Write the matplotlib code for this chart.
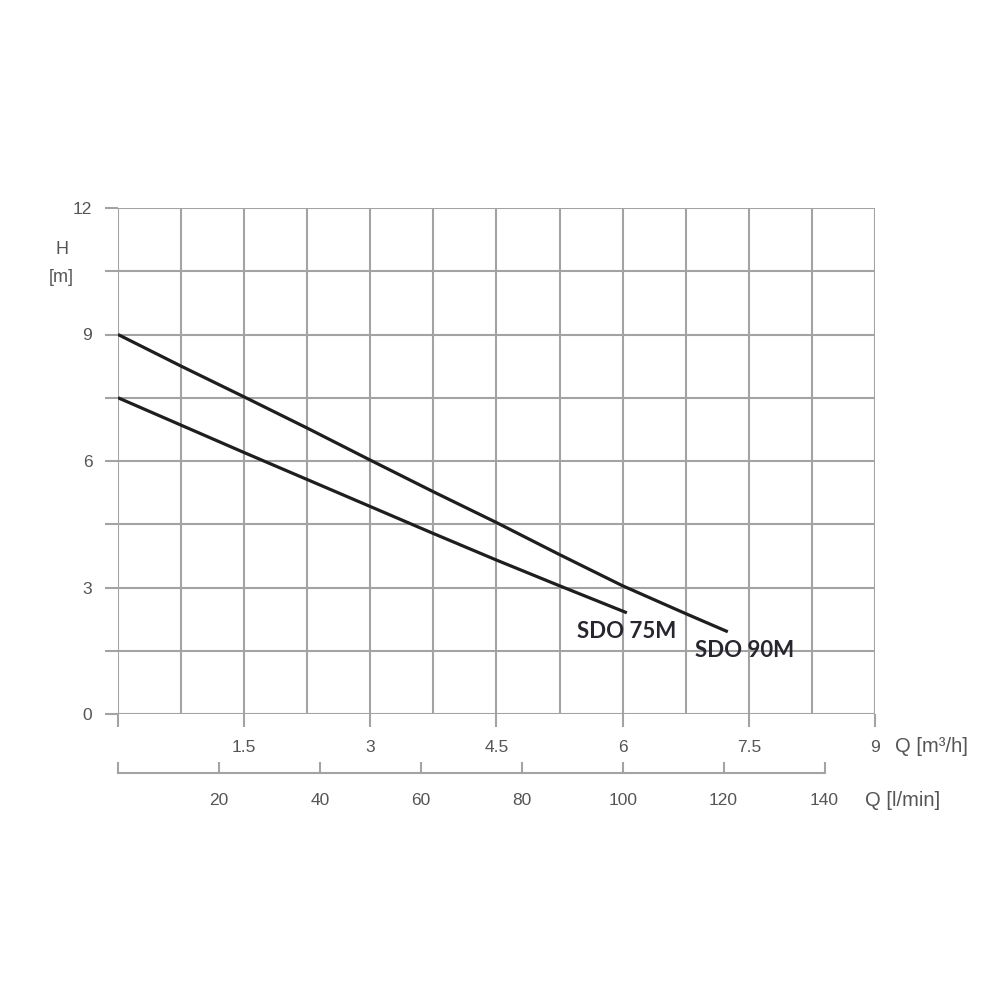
import matplotlib
matplotlib.use("Agg")
import matplotlib.pyplot as plt
import numpy as np

# pump curves (Q in m3/h, H in m)
q_90m = [0, 0.75, 1.5, 2.25, 3.0, 3.75, 4.5, 5.25, 6.0, 6.75, 7.25]
h_90m = [9.0, 8.25, 7.52, 6.78, 6.02, 5.27, 4.54, 3.78, 3.04, 2.38, 1.95]
q_75m = [0, 0.75, 1.5, 2.25, 3.0, 3.75, 4.5, 5.25, 6.05]
h_75m = [7.5, 6.85, 6.2, 5.56, 4.92, 4.28, 3.65, 3.04, 2.4]

x_major = [0, 1.5, 3, 4.5, 6, 7.5, 9]
x_labels = ["", "1.5", "3", "4.5", "6", "7.5", "9"]
lmin_ticks = [0, 20, 40, 60, 80, 100, 120, 140]
lmin_labels = ["", "20", "40", "60", "80", "100", "120", "140"]
y_major = [0, 3, 6, 9, 12]

plt.rcParams['font.family'] = ['Liberation Sans Narrow', 'Liberation Sans', 'DejaVu Sans']

grid_c = '#a3a3a3'
text_c = '#555555'

fig = plt.figure(figsize=(10, 10), dpi=100, facecolor='white')
ax = fig.add_axes([0.118, 0.286, 0.757, 0.506])

ax.set_xlim(0, 9)
ax.set_ylim(0, 12)

for s in ax.spines.values():
    s.set_visible(False)

# grid every 0.75 m3/h and 1.5 m
ax.set_xticks(x_major)
ax.set_xticklabels(x_labels)
ax.set_xticks(np.arange(0, 9.01, 0.75), minor=True)
ax.set_yticks(y_major)
ax.set_yticks(np.arange(0, 12.01, 1.5), minor=True)
ax.grid(True, which='both', color=grid_c, linewidth=1.5)
ax.set_axisbelow(True)

ax.tick_params(axis='x', which='major', length=9.5, width=1.5, color=grid_c,
               pad=9, labelsize=12.5, labelcolor=text_c)
ax.tick_params(axis='x', which='minor', length=0)
ax.tick_params(axis='y', which='both', length=9.5, width=1.5, color=grid_c,
               pad=9, labelsize=12.5, labelcolor=text_c)

ax.plot(q_90m, h_90m, color='#1e1e1e', linewidth=2.3, solid_capstyle='butt')
ax.plot(q_75m, h_75m, color='#1e1e1e', linewidth=2.3, solid_capstyle='butt')

ax.text(5.46, 1.95, 'SDO 75M', fontsize=16, fontweight='bold', family=['Lato', 'DejaVu Sans'],
        color='#26262e', ha='left', va='center')
ax.text(6.86, 1.5, 'SDO 90M', fontsize=16, fontweight='bold', family=['Lato', 'DejaVu Sans'],
        color='#26262e', ha='left', va='center')

# second flow scale in l/min
sec = ax.secondary_xaxis(-0.117, functions=(lambda q: q * 1000 / 60, lambda l: l * 60 / 1000))
sec.set_xticks(lmin_ticks)
sec.set_xticklabels(lmin_labels)
sec.spines['bottom'].set_bounds(0, 140)
sec.spines['bottom'].set_color(grid_c)
sec.spines['bottom'].set_linewidth(1.5)
sec.tick_params(axis='x', which='major', direction='in', length=8, width=1.5, color=grid_c,
                pad=14, labelsize=12.5, labelcolor=text_c)
sec.tick_params(axis='x', which='minor', length=0)

fig.text(0.062, 0.75, 'H', fontsize=13, color=text_c, ha='center', va='center')
fig.text(0.061, 0.722, '[m]', fontsize=13, color=text_c, ha='center', va='center')
fig.text(0.895, 0.254, 'Q [m³/h]', fontsize=14.5, color=text_c, ha='left', va='center')
fig.text(0.865, 0.199, 'Q [l/min]', fontsize=14.5, color=text_c, ha='left', va='center')

fig.savefig('out.png', dpi=100, facecolor='white')
